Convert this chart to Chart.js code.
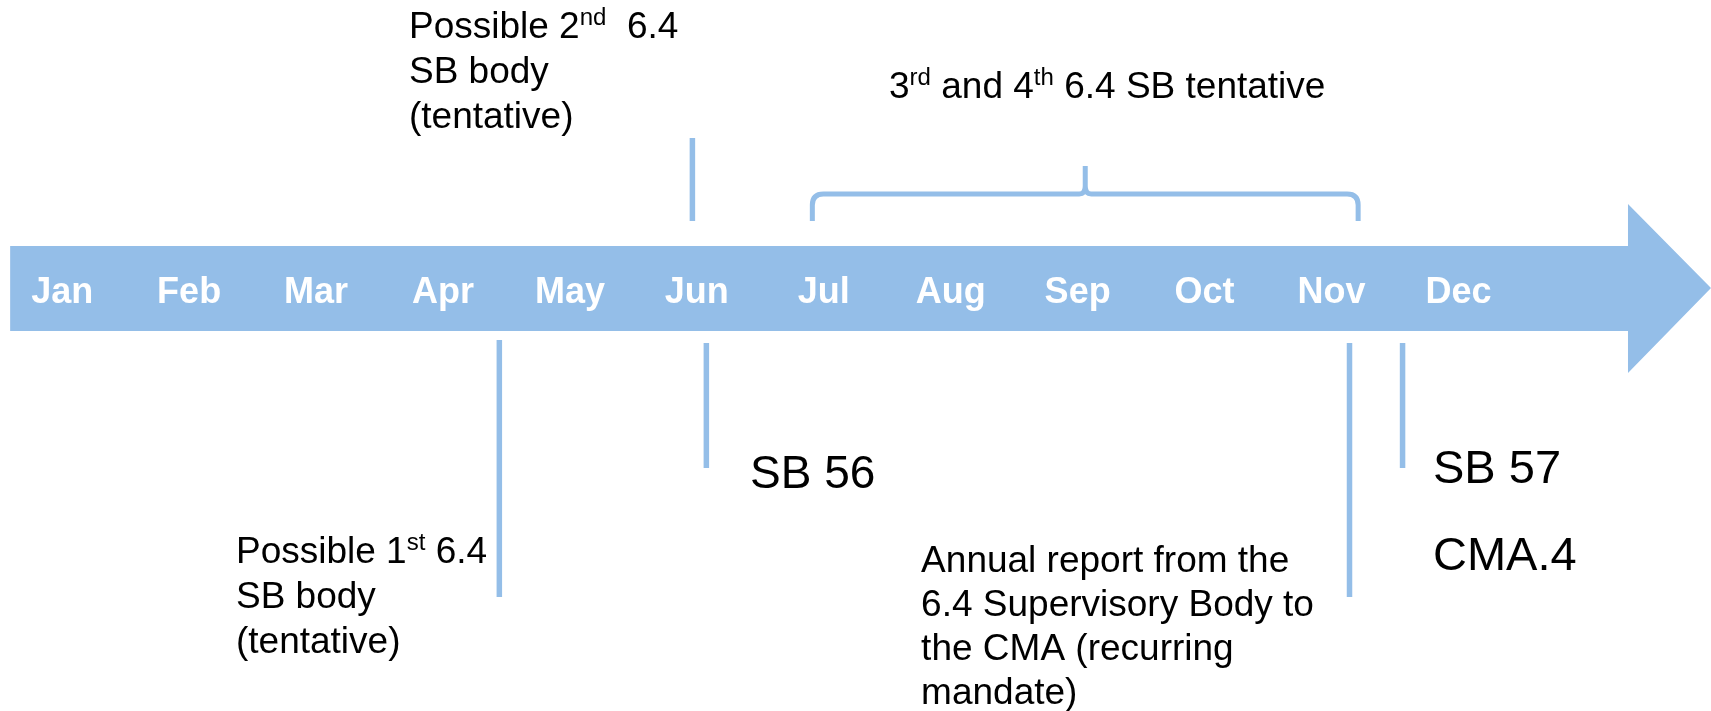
<!DOCTYPE html>
<html>
<head>
<meta charset="utf-8">
<script src="https://cdn.jsdelivr.net/npm/chart.js@4/dist/chart.umd.min.js"></script>
<style>
  html, body { margin: 0; padding: 0; background: #ffffff; }
  #timeline { display: block; }
</style>
</head>
<body>
<canvas id="timeline" width="1711" height="711"></canvas>
<script>
// tick labels along the arrow
var months = ['Jan', 'Feb', 'Mar', 'Apr', 'May', 'Jun', 'Jul', 'Aug', 'Sep', 'Oct', 'Nov', 'Dec'];

// events, position given in months (Jan = 0)
var eventNames = ['Possible 2nd 6.4 SB body', 'Possible 1st 6.4 SB body', 'SB 56', 'Annual report', 'SB 57 / CMA.4'];
var eventMonth = [4.965, 3.444, 5.075, 10.142, 10.56];

// span covered by the brace (3rd and 4th 6.4 SB)
var spanStart = 5.91;
var spanEnd = 10.21;

// texts, ^..^ marks a superscript
var labelLines = [
  ['Possible 2^nd^  6.4', 'SB body', '(tentative)'],
  ['3^rd^ and 4^th^ 6.4 SB tentative'],
  ['Possible 1^st^ 6.4', 'SB body', '(tentative)'],
  ['SB 56'],
  ['Annual report from the', '6.4 Supervisory Body to', 'the CMA (recurring', 'mandate)'],
  ['SB 57', 'CMA.4']
];

// layout (pixels on the y scale, months on the x scale)
var blue = '#94bee8';
var markerSpan = [[138, 221], [340, 597], [343, 468], [343, 597], [343, 468]];
var labelPos = [
  {x: 2.732, y: 38, size: 37, lh: 45},
  {x: 6.514, y: 98, size: 37, lh: 45},
  {x: 1.369, y: 563, size: 37, lh: 45},
  {x: 5.419, y: 488, size: 46, lh: 50},
  {x: 6.767, y: 572, size: 37, lh: 44},
  {x: 10.80, y: 483, size: 47, lh: 87}
];
var FONT = '"Liberation Sans", Arial, sans-serif';

// one dataset per marker line
var datasets = [];
for (var i = 0; i < eventMonth.length; i++) {
  datasets.push({
    label: eventNames[i],
    data: [{x: eventMonth[i], y: markerSpan[i][0]}, {x: eventMonth[i], y: markerSpan[i][1]}],
    borderColor: blue,
    borderWidth: 5.5,
    borderCapStyle: 'butt',
    pointRadius: 0,
    fill: false
  });
}

function drawRich(ctx, str, x, y, size) {
  var parts = str.split('^');
  var cx = x;
  for (var k = 0; k < parts.length; k++) {
    var sup = k % 2 === 1;
    ctx.font = (sup ? size * 0.65 : size) + 'px ' + FONT;
    ctx.fillText(parts[k], cx, sup ? y - size * 0.36 : y);
    cx += ctx.measureText(parts[k]).width;
  }
}

// arrow band with month names
var arrowPlugin = {
  id: 'arrow',
  beforeDatasetsDraw: function(chart) {
    var ctx = chart.ctx;
    var xs = chart.scales.x, ys = chart.scales.y;
    var last = months.length - 1;
    var x0 = xs.getPixelForValue(-0.41);
    var xb = xs.getPixelForValue(last + 1.336);
    var xt = xs.getPixelForValue(last + 1.99);
    var top = ys.getPixelForValue(246), bot = ys.getPixelForValue(331);
    var htop = ys.getPixelForValue(204), hbot = ys.getPixelForValue(373);
    var mid = ys.getPixelForValue(288);
    ctx.save();
    ctx.fillStyle = blue;
    ctx.beginPath();
    ctx.moveTo(x0, top);
    ctx.lineTo(xb, top);
    ctx.lineTo(xb, htop);
    ctx.lineTo(xt, mid);
    ctx.lineTo(xb, hbot);
    ctx.lineTo(xb, bot);
    ctx.lineTo(x0, bot);
    ctx.closePath();
    ctx.fill();

    ctx.fillStyle = '#ffffff';
    ctx.font = 'bold 36px ' + FONT;
    ctx.textAlign = 'center';
    ctx.textBaseline = 'alphabetic';
    var by = ys.getPixelForValue(303);
    months.forEach(function(m, i) {
      ctx.fillText(m, xs.getPixelForValue(i), by);
    });
    ctx.restore();
  },
  afterDatasetsDraw: function(chart) {
    var ctx = chart.ctx;
    var xs = chart.scales.x, ys = chart.scales.y;

    // brace over the tentative span
    var l = xs.getPixelForValue(spanStart), r = xs.getPixelForValue(spanEnd);
    var c = xs.getPixelForValue((spanStart + spanEnd) / 2);
    var yEnd = ys.getPixelForValue(221), yBar = ys.getPixelForValue(194), yTip = ys.getPixelForValue(166);
    var rad = 11;
    ctx.save();
    ctx.strokeStyle = blue;
    ctx.lineWidth = 5;
    ctx.lineJoin = 'round';
    ctx.beginPath();
    ctx.moveTo(l, yEnd);
    ctx.lineTo(l, yBar + rad);
    ctx.quadraticCurveTo(l, yBar, l + rad, yBar);
    ctx.lineTo(c - 6, yBar);
    ctx.quadraticCurveTo(c, yBar, c, yBar - 8);
    ctx.lineTo(c, yTip);
    ctx.moveTo(c, yBar - 8);
    ctx.quadraticCurveTo(c, yBar, c + 6, yBar);
    ctx.lineTo(r - rad, yBar);
    ctx.quadraticCurveTo(r, yBar, r, yBar + rad);
    ctx.lineTo(r, yEnd);
    ctx.stroke();

    // texts
    ctx.fillStyle = '#000000';
    ctx.textAlign = 'left';
    ctx.textBaseline = 'alphabetic';
    labelLines.forEach(function(lines, i) {
      var p = labelPos[i];
      var x = xs.getPixelForValue(p.x);
      lines.forEach(function(line, j) {
        drawRich(ctx, line, x, ys.getPixelForValue(p.y + j * p.lh), p.size);
      });
    });
    ctx.restore();
  }
};

var ctx = document.getElementById('timeline').getContext('2d');
var chart = new Chart(ctx, {
  type: 'line',
  data: { datasets: datasets },
  options: {
    responsive: false,
    animation: false,
    devicePixelRatio: 1,
    layout: { padding: 0 },
    scales: {
      x: { type: 'linear', min: -0.49, max: 12.99, display: false },
      y: { type: 'linear', min: 0, max: 711, reverse: true, display: false }
    },
    plugins: {
      legend: { display: false },
      tooltip: { enabled: false }
    }
  },
  plugins: [arrowPlugin]
});
</script>
</body>
</html>
